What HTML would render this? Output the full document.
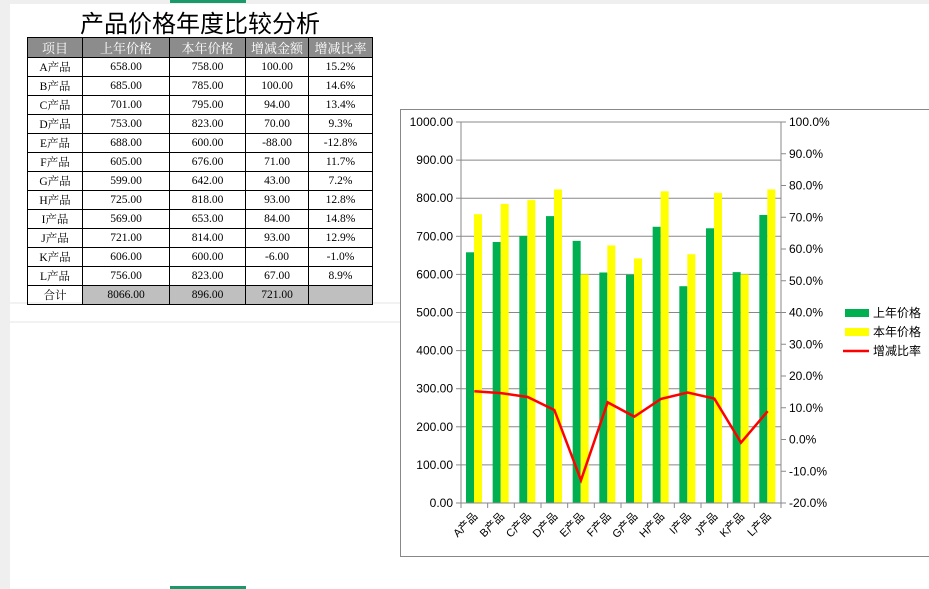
<!DOCTYPE html>
<html><head><meta charset="utf-8"><style>
body{margin:0;width:929px;height:589px;background:#fff;position:relative;overflow:hidden;font-family:"Liberation Sans","Noto Sans CJK SC",sans-serif}
.grid{position:absolute;left:0;top:0}
table{position:absolute;left:27px;top:37px;border-collapse:collapse;font-family:"Liberation Serif","Noto Serif CJK SC",serif;font-size:11.5px}
td{border:1px solid #000;height:18px;padding:0;text-align:center}
th{background:#8c8c8c;color:#fff;font-weight:normal;border:1px solid #000;height:18px;padding:0;font-family:"Liberation Serif","Noto Serif CJK SC",serif;font-size:13px}
.g{background:#bfbfbf}
h1{position:absolute;left:80px;top:4px;margin:0;font-size:24px;font-weight:normal;font-family:"Liberation Sans","Noto Sans CJK SC",sans-serif}
</style></head><body>
<svg class="grid" width="929" height="589">
<rect x="0" y="0" width="10" height="589" fill="#efefef"/>
<rect x="0" y="0" width="929" height="4" fill="#efefef"/>
<rect x="170" y="0" width="76" height="3" fill="#1a9a6a"/>
<rect x="170" y="586" width="76" height="3" fill="#1a9a6a"/>
<g stroke="#e6e6e6"><line x1="10" y1="303" x2="400" y2="303"/><line x1="10" y1="322" x2="400" y2="322"/></g>
</svg>
<h1>产品价格年度比较分析</h1>
<table>
<tr><th style="width:54px">项目</th><th style="width:86px">上年价格</th><th style="width:75px">本年价格</th><th style="width:62px">增减金额</th><th style="width:63px">增减比率</th></tr>
<tbody id="tb"></tbody>
</table>
<svg id="chart" width="929" height="589" style="position:absolute;left:0;top:0"></svg>
<script>
const categories=["A产品","B产品","C产品","D产品","E产品","F产品","G产品","H产品","I产品","J产品","K产品","L产品"];
const lastYear=[658,685,701,753,688,605,599,725,569,721,606,756];
const thisYear=[758,785,795,823,600,676,642,818,653,814,600,823];
const diffs=[100,100,94,70,-88,71,43,93,84,93,-6,67];
const rates=[15.2,14.6,13.4,9.3,-12.8,11.7,7.2,12.8,14.8,12.9,-1.0,8.9];
const leftTicks=[0,100,200,300,400,500,600,700,800,900,1000];
const rightTicks=[-20,-10,0,10,20,30,40,50,60,70,80,90,100];
const tb=document.getElementById('tb');
categories.forEach((c,i)=>{const tr=document.createElement('tr');


tr.innerHTML=`<td>${c}</td><td>${lastYear[i].toFixed(2)}</td><td>${thisYear[i].toFixed(2)}</td><td>${diffs[i].toFixed(2)}</td><td>${rates[i].toFixed(1)}%</td>`;tb.appendChild(tr);});
const tr=document.createElement('tr');


tr.innerHTML=`<td>合计</td><td class="g">8066.00</td><td class="g">896.00</td><td class="g">721.00</td><td class="g"></td>`;tb.appendChild(tr);

const svg=document.getElementById('chart');const NS='http://www.w3.org/2000/svg';
function el(t,a,p){const e=document.createElementNS(NS,t);for(const k in a)e.setAttribute(k,a[k]);(p||svg).appendChild(e);return e;}
const X0=461,X1=781,Y0=503,Y1=122;const cw=(X1-X0)/categories.length;
const yL=v=>Y0-(v-0)/1000*(Y0-Y1);
const yR=v=>Y0-(v+20)/120*(Y0-Y1);
const frame=el('rect',{x:400.5,y:109.5,width:540,height:447,fill:'#fff',stroke:'#888'});


leftTicks.forEach(t=>{const y=yL(t);
const g=el('line',{x1:X0,x2:X1,y1:y,y2:y,stroke:'#888','stroke-width':1});


el('line',{x1:X0-5,x2:X0,y1:y,y2:y,stroke:'#888'});
const tx=el('text',{x:X0-8,y:y+4,'text-anchor':'end','font-size':12});tx.textContent=t.toFixed(2);

});
rightTicks.forEach(t=>{const y=yR(t);el('line',{x1:X1,x2:X1+5,y1:y,y2:y,stroke:'#888'});
const tx=el('text',{x:X1+8,y:y+4,'font-size':12});tx.textContent=t.toFixed(1)+'%';

});
el('line',{x1:X0,x2:X0,y1:Y1,y2:Y0,stroke:'#888'});el('line',{x1:X1,x2:X1,y1:Y1,y2:Y0,stroke:'#888'});
categories.forEach((c,i)=>{const x=X0+i*cw;
el('line',{x1:x,x2:x,y1:Y0,y2:Y0+5,stroke:'#888'});
const b1=el('rect',{x:x+5,y:yL(lastYear[i]),width:8,height:Y0-yL(lastYear[i]),fill:'#00b050'});


const b2=el('rect',{x:x+13,y:yL(thisYear[i]),width:8,height:Y0-yL(thisYear[i]),fill:'#ffff00'});


const tx=el('text',{x:x+cw/2+4,y:Y0+14,'text-anchor':'end','font-size':11,transform:`rotate(-45 ${x+cw/2+4} ${Y0+14})`});tx.textContent=c;

});
el('line',{x1:X1,x2:X1,y1:Y0,y2:Y0+5,stroke:'#888'});
el('line',{x1:X0,x2:X1,y1:Y0,y2:Y0,stroke:'#888'});
const pl=el('polyline',{points:rates.map((r,i)=>`${X0+(i+0.5)*cw},${yR(r)}`).join(' '),fill:'none',stroke:'#ff0000','stroke-width':2.5});


const leg=[['#00b050','上年价格','rect'],['#ffff00','本年价格','rect'],['#ff0000','增减比率','line']];
leg.forEach((l,i)=>{const y=313+i*19;
if(l[2]=='rect')el('rect',{x:845,y:y-4,width:24,height:8,fill:l[0]});else el('line',{x1:843,x2:869,y1:y,y2:y,stroke:l[0],'stroke-width':2.5});
const tx=el('text',{x:873,y:y+4,'font-size':12});tx.textContent=l[1];

});
</script>
</body></html>
